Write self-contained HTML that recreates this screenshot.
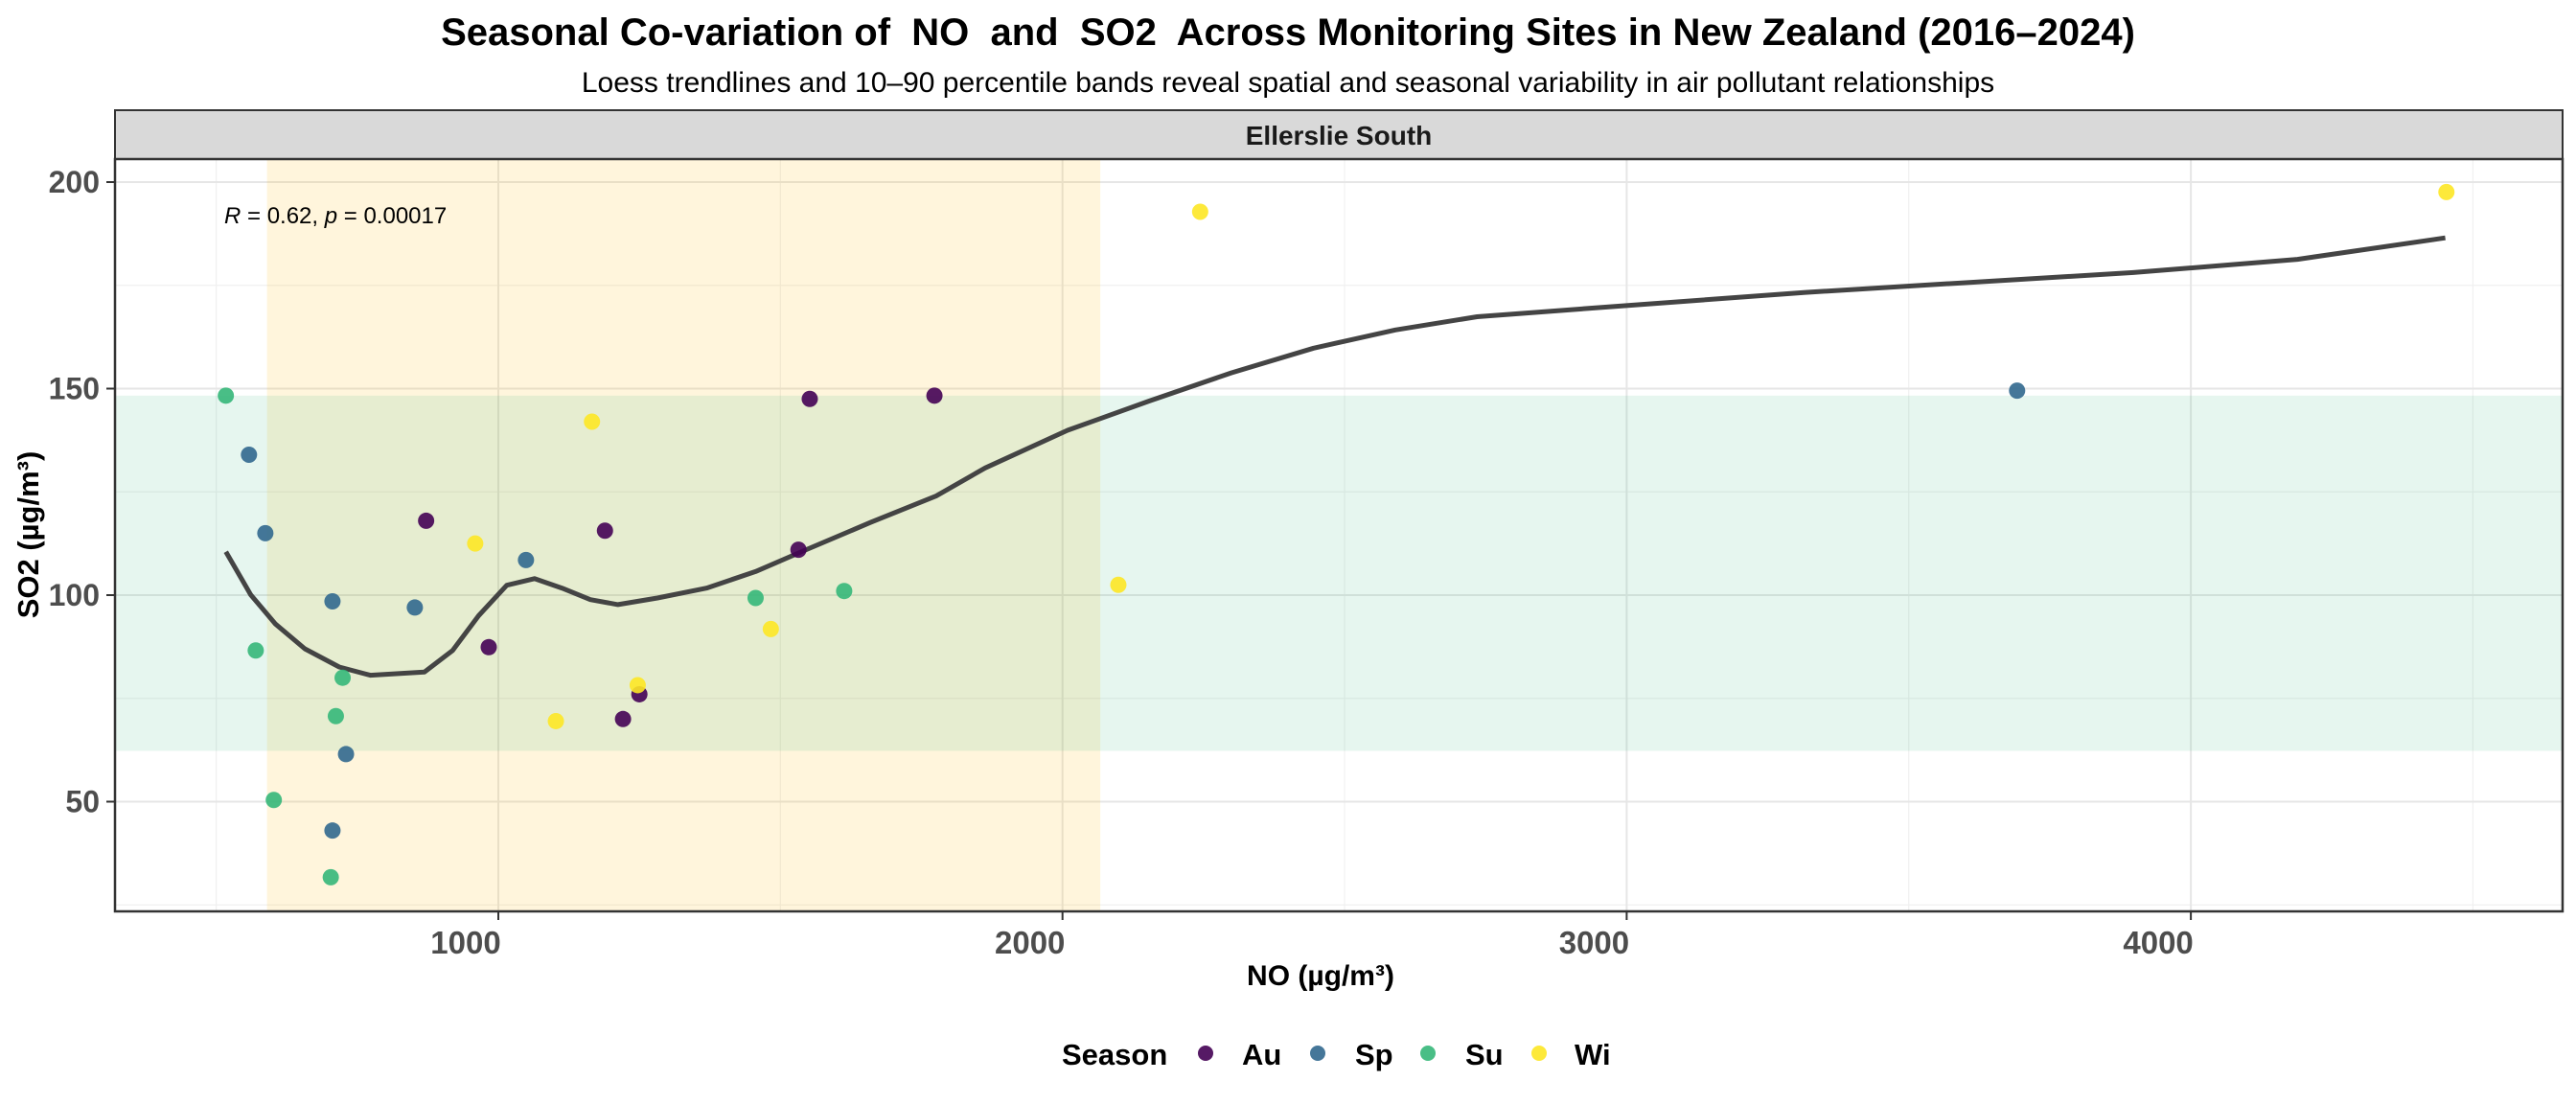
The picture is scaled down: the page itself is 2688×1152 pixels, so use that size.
<!DOCTYPE html>
<html><head><meta charset="utf-8"><style>
html,body{margin:0;padding:0;background:#fff;}
svg{display:block;font-family:"Liberation Sans",Arial,sans-serif;}
</style></head><body>
<svg id="chart" width="2688" height="1152" viewBox="0 0 2688 1152" xmlns="http://www.w3.org/2000/svg">
<text x="1344" y="47" text-anchor="middle" font-size="40" font-weight="bold" fill="#000" xml:space="preserve">Seasonal Co-variation of  NO  and  SO2  Across Monitoring Sites in New Zealand (2016–2024)</text>
<text x="1344" y="96" text-anchor="middle" font-size="30" fill="#000">Loess trendlines and 10–90 percentile bands reveal spatial and seasonal variability in air pollutant relationships</text>
<rect x="120" y="115" width="2554" height="51" fill="#d9d9d9" stroke="#333" stroke-width="2"/>
<text x="1397" y="151" text-anchor="middle" font-size="28" font-weight="bold" fill="#1a1a1a">Ellerslie South</text>
<g id="grid"></g>
<g id="bands"></g>
<g id="marks"></g>
<rect x="120" y="166" width="2554" height="785" fill="none" stroke="#333" stroke-width="2.5"/>
<g id="axes"></g>
<text x="234" y="233" font-size="24" fill="#000"><tspan font-style="italic">R</tspan> = 0.62, <tspan font-style="italic">p</tspan> = 0.00017</text>
<text x="1378" y="1028" text-anchor="middle" font-size="30" font-weight="bold" fill="#000">NO (µg/m³)</text>
<text transform="translate(40,558) rotate(-90)" text-anchor="middle" font-size="31" font-weight="bold" fill="#000">SO2 (µg/m³)</text>
<g>
<text x="1108" y="1111" font-size="31" font-weight="bold" fill="#000">Season</text>
<circle cx="1258" cy="1099" r="8" fill="#440154" fill-opacity="0.9"/>
<text x="1296" y="1111" font-size="31" font-weight="bold">Au</text>
<circle cx="1375" cy="1099" r="8" fill="#31688E" fill-opacity="0.9"/>
<text x="1414" y="1111" font-size="31" font-weight="bold">Sp</text>
<circle cx="1490" cy="1099" r="8" fill="#35B779" fill-opacity="0.9"/>
<text x="1529" y="1111" font-size="31" font-weight="bold">Su</text>
<circle cx="1606" cy="1099" r="8" fill="#FDE725" fill-opacity="0.9"/>
<text x="1643" y="1111" font-size="31" font-weight="bold">Wi</text>
</g>
</svg>
<script>
const seasons = ["Su","Sp","Sp","Su","Sp","Su","Su","Sp","Su","Sp","Su","Sp","Au","Wi","Au","Sp","Wi","Au","Wi","Au","Au","Wi","Au","Su","Wi","Au","Su","Au","Wi","Wi","Sp","Wi"];
const noValues = [517,558,587,570,706,724,712,730,602,706,703,852,872,959,983,1049,1102,1189,1166,1221,1250,1247,1532,1456,1483,1552,1613,1773,2099,2244,3692,4453];
const so2Values = [148.3,134,115,86.6,98.5,80,70.7,61.5,50.4,43,31.7,97,118,112.5,87.4,108.5,69.5,115.6,142,70,76,78.2,111,99.3,91.8,147.5,101,148.3,102.5,192.8,149.5,197.6];
const loessX = [517,561,605,657,718,773,869,919,965,1015,1064,1113,1163,1212,1282,1369,1456,1544,1660,1776,1863,2009,2154,2299,2445,2590,2735,2930,3317,3608,3898,4189,4451];
const loessY = [110.5,100.1,93,87,82.6,80.6,81.4,86.6,95,102.4,104,101.7,98.9,97.7,99.3,101.7,105.7,110.9,117.6,124,130.8,139.9,147,153.8,159.8,164.2,167.4,169.4,173.3,175.7,178.1,181.3,186.5];
const xBand = [590,2067];
const yBand = [62.3,148.3];
const xTicks = [1000,2000,3000,4000];
const yTicks = [50,100,150,200];
const xMinor = [500,1500,2500,3500,4500];
const yMinor = [25,75,125,175];
const colors = {Au:"#440154",Sp:"#31688E",Su:"#35B779",Wi:"#FDE725"};
const L=120,R=2674,T=166,B=951;
function xs(v){return 520+(v-1000)*0.5887;}
function ys(v){return 621-(v-100)*4.31;}
const NS="http://www.w3.org/2000/svg";
function mk(tag,attrs,parent){const e=document.createElementNS(NS,tag);for(const k in attrs)e.setAttribute(k,attrs[k]);parent.appendChild(e);return e;}
const grid=document.getElementById('grid'),bands=document.getElementById('bands'),marks=document.getElementById('marks'),axes=document.getElementById('axes');
mk('rect',{x:L,y:T,width:R-L,height:B-T,fill:'#fff'},grid);
xMinor.forEach(v=>{const x=xs(v);if(x>L&&x<R){const l=mk('line',{x1:x,x2:x,y1:T,y2:B,stroke:'#f0f0f0','stroke-width':1.2},grid);

}});
yMinor.forEach(v=>{const y=ys(v);if(y>T&&y<B){const l=mk('line',{x1:L,x2:R,y1:y,y2:y,stroke:'#f0f0f0','stroke-width':1.2},grid);

}});
xTicks.forEach(v=>{const x=xs(v);const l=mk('line',{x1:x,x2:x,y1:T,y2:B,stroke:'#e6e6e6','stroke-width':2},grid);


const t=mk('line',{x1:x,x2:x,y1:B,y2:B+9,stroke:'#333','stroke-width':2},axes);


const tx=mk('text',{x:x-34,y:B+44,'text-anchor':'middle','font-size':33,'font-weight':'bold',fill:'#4d4d4d'},axes);tx.textContent=v;

});
yTicks.forEach(v=>{const y=ys(v);const l=mk('line',{x1:L,x2:R,y1:y,y2:y,stroke:'#e6e6e6','stroke-width':2},grid);


const t=mk('line',{x1:L-9,x2:L,y1:y,y2:y,stroke:'#333','stroke-width':2},axes);


const tx=mk('text',{x:104,y:y+11,'text-anchor':'end','font-size':32,'font-weight':'bold',fill:'#4d4d4d'},axes);tx.textContent=v;

});
const yb=mk('rect',{x:xs(xBand[0]),y:T,width:xs(xBand[1])-xs(xBand[0]),height:B-T,fill:'#FFBC16','fill-opacity':0.15},bands);


const gb=mk('rect',{x:L,y:ys(yBand[1]),width:R-L,height:ys(yBand[0])-ys(yBand[1]),fill:'#35B779','fill-opacity':0.12},bands);


let d='';loessX.forEach((v,i)=>{d+=(i?'L':'M')+xs(v).toFixed(1)+','+ys(loessY[i]).toFixed(1);});
const p=mk('path',{d:d,fill:'none',stroke:'#444','stroke-width':5,'stroke-linejoin':'round'},marks);


noValues.forEach((v,i)=>{const c=mk('circle',{cx:xs(v),cy:ys(so2Values[i]),r:8.5,fill:colors[seasons[i]],'fill-opacity':0.9},marks);

});
</script>
</body></html>
